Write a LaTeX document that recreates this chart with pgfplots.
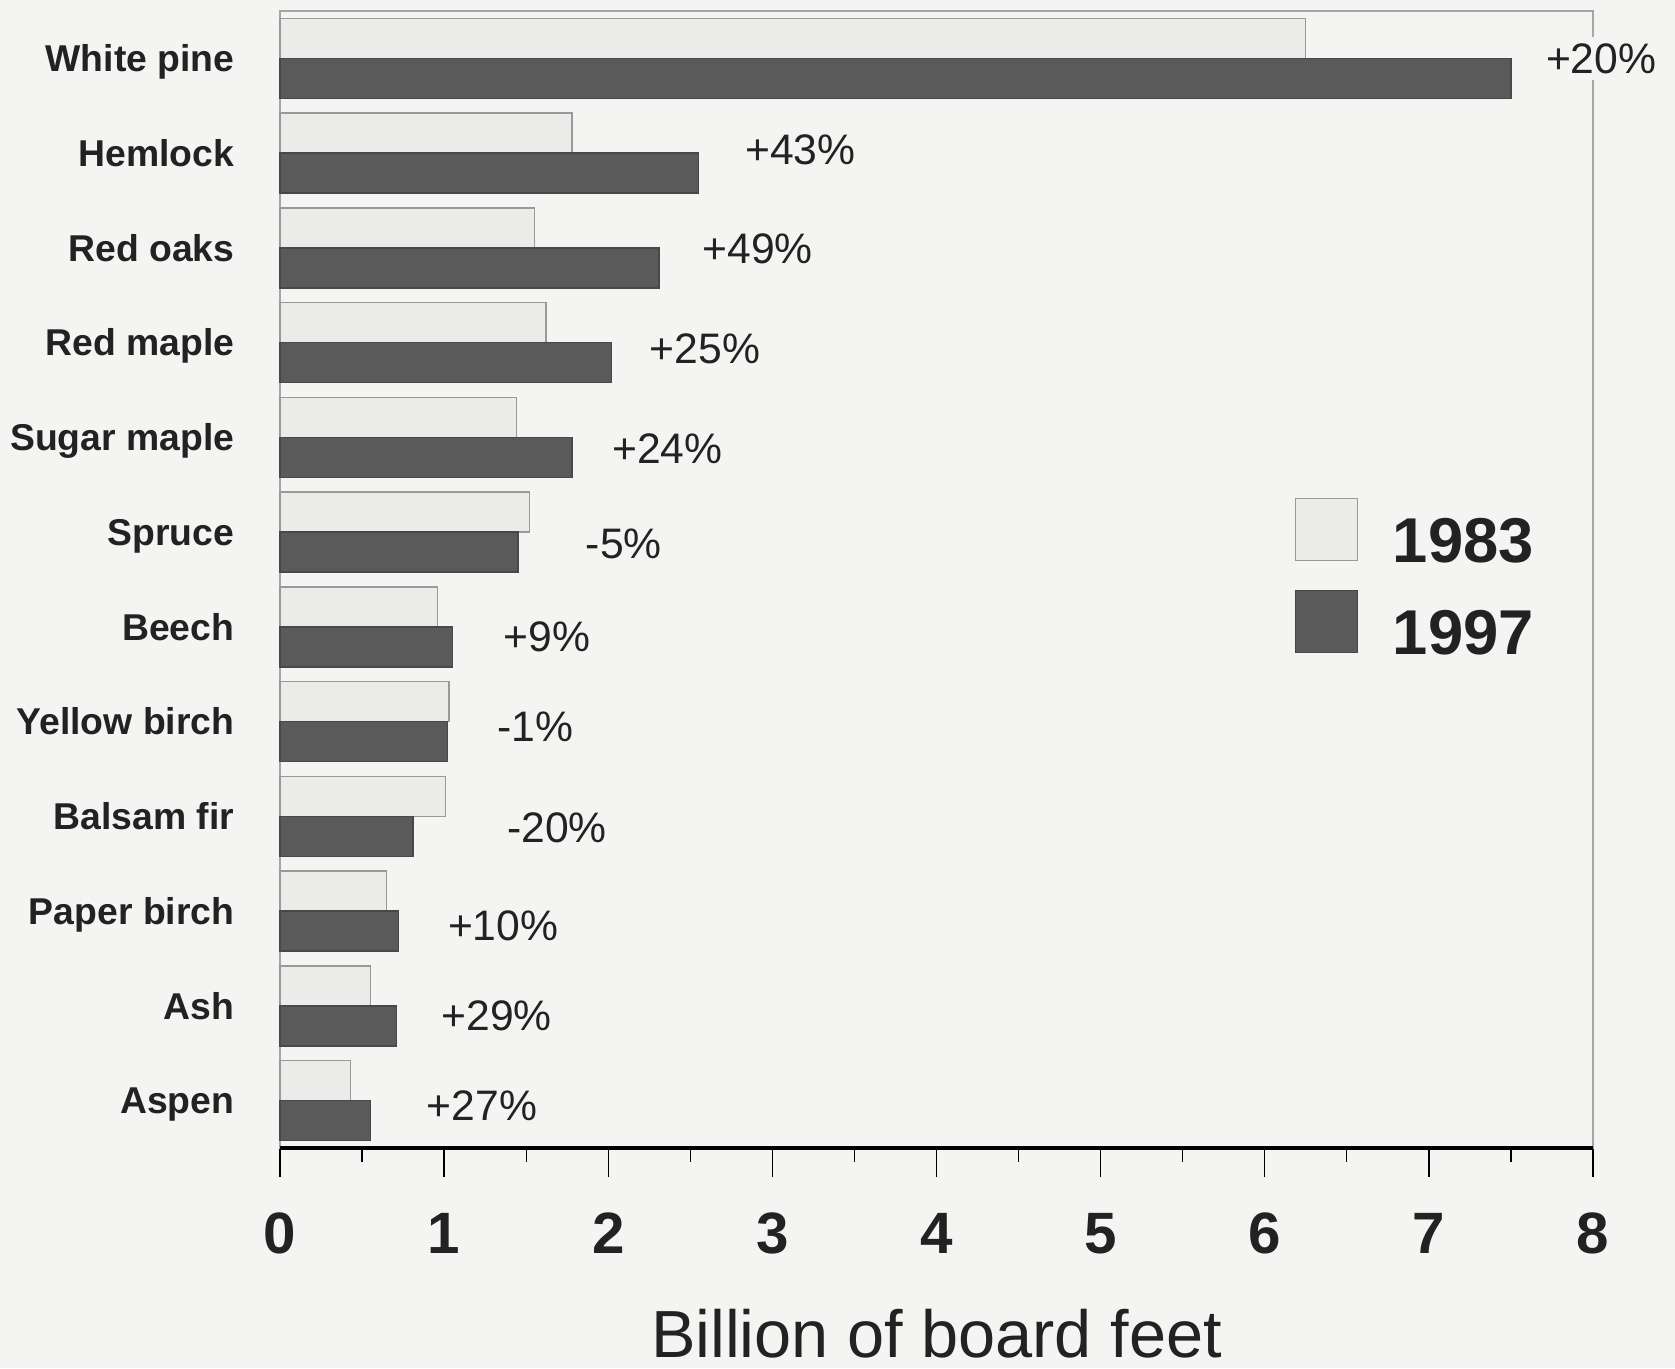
\documentclass[border=0pt]{standalone}
\usepackage{fontspec}
\setmainfont{Liberation Sans}
\usepackage{pgfplots}
\usepackage{pgfplotstable}
\pgfplotsset{compat=1.18}
\usetikzlibrary{backgrounds}

\definecolor{bg}{HTML}{F4F4F2}
\definecolor{lite}{HTML}{EBEBEA}
\definecolor{dark}{HTML}{5A5A5A}
\definecolor{txt}{HTML}{222222}

% volume in billion board feet, y index 11 = top row
\pgfplotstableread{
y  v83  v97
11 6.25 7.50
10 1.78 2.55
9  1.55 2.31
8  1.62 2.02
7  1.44 1.78
6  1.52 1.45
5  0.96 1.05
4  1.03 1.02
3  1.01 0.81
2  0.65 0.72
1  0.55 0.71
0  0.43 0.55
}\datatable

\begin{document}
\begin{tikzpicture}
\begin{axis}[
    scale only axis,
    width=393.9pt, height=341.1pt,
    xmin=0, xmax=8, ymin=-0.5, ymax=11.5,
    bar width=12pt,
    clip=false,
    axis line style={draw=gray!70, line width=0.4pt},
    xtick={0,1,...,8},
    minor x tick num=1,
    xtick pos=bottom,
    tick align=outside,
    major tick length=8.7pt,
    minor tick length=4.2pt,
    x tick style={black, line width=0.4pt},
    ytick={0,...,11},
    yticklabels={Aspen,Ash,Paper birch,Balsam fir,Yellow birch,Beech,Spruce,Sugar maple,Red maple,Red oaks,Hemlock,White pine},
    ytick style={draw=none},
    /pgf/number format/assume math mode=true,
    xticklabel style={font=\fontsize{17.5}{17.5}\selectfont\bfseries, text=txt, inner sep=0pt, anchor=north, yshift=-10.6pt},
    yticklabel style={font=\fontsize{11.2}{11.2}\selectfont\bfseries, text=txt, inner sep=0pt, anchor=base east, xshift=-4.8pt, yshift=-4pt},
    xlabel={Billion of board feet},
    xlabel style={at={(axis description cs:0.5,0)}, anchor=base, yshift=-62.7pt, inner sep=0pt, font=\fontsize{20}{20}\selectfont, text=txt},
    legend style={at={(0.765,0.578)}, anchor=north west, draw=none, fill=none,
        font=\fontsize{19}{19}\selectfont\bfseries, text=txt,
        row sep=6.9pt, nodes={inner sep=0pt},
        /tikz/every odd column/.append style={column sep=10.3pt}},
]

\addplot[xbar, fill=lite, draw=gray!80, bar shift=6pt,
    legend image code/.code={\draw[fill=lite, draw=gray!80] (0pt,-5.5pt) rectangle (18.6pt,13.1pt);}]
    table[x=v83, y=y]{\datatable};
\addlegendentry{1983}

\addplot[xbar, fill=dark, draw=dark!80!black, bar shift=-6pt,
    legend image code/.code={\draw[fill=dark, draw=dark!80!black] (0pt,-5.5pt) rectangle (18.6pt,13.1pt);}]
    table[x=v97, y=y]{\datatable};
\addlegendentry{1997}

% percent change labels
\addplot[draw=none, mark=none, forget plot, nodes near coords, point meta=explicit symbolic,
    nodes near coords style={anchor=west, inner sep=2pt, xshift=-2pt, fill=bg, text=txt, font=\fontsize{12.8}{12.8}\selectfont}]
    coordinates {
    (7.71,11.00) [+20\%]
    (2.83,10.04) [+43\%]
    (2.57,8.99)  [+49\%]
    (2.25,7.94)  [+25\%]
    (2.02,6.88)  [+24\%]
    (1.86,5.88)  [-5\%]
    (1.36,4.90)  [+9\%]
    (1.32,3.94)  [-1\%]
    (1.38,2.88)  [-20\%]
    (1.02,1.84)  [+10\%]
    (0.98,0.90)  [+29\%]
    (0.89,-0.05) [+27\%]
    };

\draw[black, line width=1pt] (rel axis cs:0,0) -- (rel axis cs:1,0);
\end{axis}
\begin{scope}[on background layer]
\fill[bg] ([xshift=-84pt,yshift=-66pt]current axis.south west) rectangle ([xshift=24.6pt,yshift=3.3pt]current axis.north east);
\end{scope}
\end{tikzpicture}
\end{document}
